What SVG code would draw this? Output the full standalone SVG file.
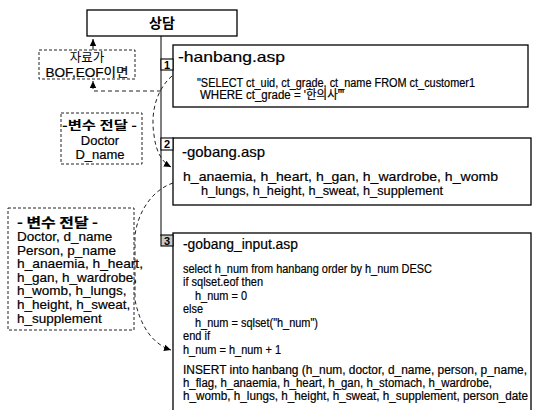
<svg xmlns="http://www.w3.org/2000/svg" width="534" height="410" viewBox="0 0 534 410">
<style>
.box{fill:#fff;stroke:#000;stroke-width:1.3}
.dbox{fill:#fff;stroke:#222;stroke-width:1;stroke-dasharray:3 2}
.lbl{fill:#fff;stroke:#000;stroke-width:1.1}
.t{font-family:"Liberation Sans","Noto Sans CJK KR",Arial,sans-serif;fill:#000;stroke:#000;stroke-width:0.2}
.k{font-family:"Noto Sans CJK KR","Liberation Sans",sans-serif;fill:#000}
.num{font-family:"Liberation Sans",Arial,sans-serif;font-size:11px;font-weight:bold;text-anchor:middle}
.con{fill:none;stroke:#000;stroke-width:1}
.dash{fill:none;stroke:#222;stroke-width:1;stroke-dasharray:4 3}
</style>
<defs>
<marker id="ah" markerWidth="8" markerHeight="8" refX="7" refY="4" orient="auto" markerUnits="userSpaceOnUse">
<path d="M0,0.8 L7,4 L0,7.2 Z" fill="#000"/>
</marker>
</defs>
<rect width="534" height="410" fill="#fff"/>

<g id="connectors">
<line class="con" x1="161" y1="36" x2="161" y2="236"/>
<path class="con" d="M93,50 L93,39" marker-end="url(#ah)"/>
<path class="dash" d="M161,91 L93,91 L93,81" marker-end="url(#ah)"/>
<path class="dash" d="M172,76 C158,88 150,110 154,135 C156,152 162,162 171,167" marker-end="url(#ah)"/>
<path class="dash" d="M173,183 C152,190 138,212 135,235 L135,300 C140,325 152,344 171,350" marker-end="url(#ah)"/>
</g>

<g id="node-sangdam">
<rect class="box" x="87" y="10" width="150" height="26"/>
<text class="k" x="162" y="28" font-size="14" font-weight="bold" text-anchor="middle">상담</text>
</g>

<g id="node-bof">
<rect class="dbox" x="39" y="50" width="96" height="29"/>
<text class="k" x="87" y="62" font-size="12.5" text-anchor="middle">자료가</text>
<text class="t" x="87" y="76.5" font-size="12.5" text-anchor="middle" textLength="83" lengthAdjust="spacingAndGlyphs">BOF,EOF이면</text>
</g>

<g id="node-var1">
<rect class="dbox" x="61" y="113" width="81" height="51"/>
<text class="k" x="99.5" y="129.5" font-size="12.5" font-weight="bold" text-anchor="middle" textLength="75" lengthAdjust="spacingAndGlyphs">-변수 전달 -</text>
<text class="t" x="100" y="145" font-size="13" text-anchor="middle">Doctor</text>
<text class="t" x="100" y="159" font-size="13" text-anchor="middle">D_name</text>
</g>

<g id="node-var2">
<rect class="dbox" x="8" y="208" width="126" height="122"/>
<g class="t" font-size="13.5">
<text class="k" x="17" y="226.5" font-size="13" font-weight="bold" textLength="81" lengthAdjust="spacingAndGlyphs">- 변수 전달 -</text>
<text x="17" y="241">Doctor, d_name</text>
<text x="17" y="254.5">Person, p_name</text>
<text x="17" y="268" textLength="126" lengthAdjust="spacingAndGlyphs">h_anaemia, h_heart,</text>
<text x="17" y="281.5">h_gan, h_wardrobe,</text>
<text x="17" y="295">h_womb, h_lungs,</text>
<text x="17" y="309">h_height, h_sweat,</text>
<text x="17" y="322.5">h_supplement</text>
</g>
</g>

<g id="node-hanbang">
<rect class="box" x="173" y="45" width="355" height="62"/>
<rect class="lbl" x="161" y="59" width="12" height="11"/>
<text class="num" x="167" y="68.5">1</text>
<text class="t" x="178" y="62" font-size="15" textLength="107" lengthAdjust="spacingAndGlyphs">-hanbang.asp</text>
<text class="t" x="197" y="86.5" font-size="12" textLength="278" lengthAdjust="spacingAndGlyphs">"SELECT ct_uid, ct_grade, ct_name  FROM ct_customer1</text>
<text class="t" x="200" y="99" font-size="12" textLength="144" lengthAdjust="spacingAndGlyphs">WHERE ct_grade = '한의사'"</text>
</g>

<g id="node-gobang">
<rect class="box" x="173" y="138" width="358" height="67"/>
<rect class="lbl" x="161" y="138" width="12" height="12"/>
<text class="num" x="167" y="148">2</text>
<text class="t" x="182" y="157" font-size="14.5" textLength="83" lengthAdjust="spacingAndGlyphs">-gobang.asp</text>
<text class="t" x="183" y="181" font-size="13.5" textLength="315" lengthAdjust="spacingAndGlyphs">h_anaemia, h_heart, h_gan, h_wardrobe, h_womb</text>
<text class="t" x="201" y="195" font-size="13.5" textLength="242" lengthAdjust="spacingAndGlyphs">h_lungs, h_height, h_sweat, h_supplement</text>
</g>

<g id="node-gobang-input">
<rect class="box" x="173" y="233" width="358" height="185"/>
<rect class="lbl" x="161" y="235" width="12" height="11" style="fill:#c8c8c8"/>
<text class="num" x="167" y="244.5">3</text>
<text class="t" x="183" y="249" font-size="14" textLength="115" lengthAdjust="spacingAndGlyphs">-gobang_input.asp</text>
<g class="t" font-size="12.5">
<text x="183" y="272.5" textLength="249" lengthAdjust="spacingAndGlyphs">select h_num from hanbang order by h_num DESC</text>
<text x="183" y="285.5" textLength="80" lengthAdjust="spacingAndGlyphs">if sqlset.eof then</text>
<text x="195" y="299.5" textLength="52" lengthAdjust="spacingAndGlyphs">h_num = 0</text>
<text x="183" y="312.5" textLength="20" lengthAdjust="spacingAndGlyphs">else</text>
<text x="195" y="326.5" textLength="123" lengthAdjust="spacingAndGlyphs">h_num = sqlset("h_num")</text>
<text x="183" y="340" textLength="27" lengthAdjust="spacingAndGlyphs">end if</text>
<text x="183" y="353.5" textLength="98" lengthAdjust="spacingAndGlyphs">h_num = h_num + 1</text>
</g>
<g class="t" font-size="12">
<text x="183" y="374" textLength="344" lengthAdjust="spacingAndGlyphs">INSERT into hanbang (h_num, doctor, d_name, person, p_name,</text>
<text x="183" y="387" textLength="309" lengthAdjust="spacingAndGlyphs">h_flag, h_anaemia, h_heart, h_gan, h_stomach, h_wardrobe,</text>
<text x="183" y="400" textLength="345" lengthAdjust="spacingAndGlyphs">h_womb, h_lungs, h_height, h_sweat, h_supplement, person_date</text>
</g>
</g>
</svg>
